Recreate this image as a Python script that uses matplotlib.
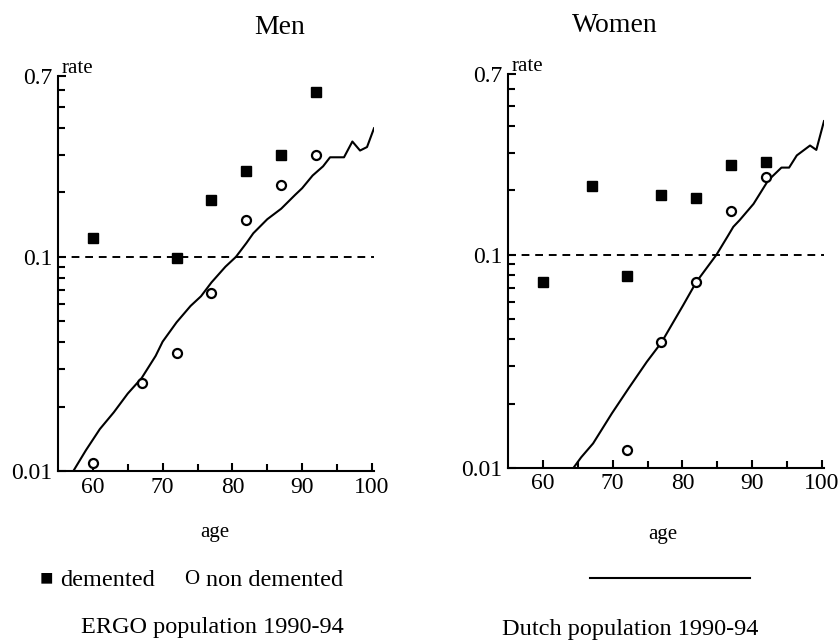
import matplotlib
matplotlib.use("Agg")
import matplotlib.pyplot as plt
import matplotlib.ticker as mticker
import numpy as np

plt.rcParams['font.family'] = ['Liberation Serif', 'DejaVu Serif']

# ERGO study points (age group midpoints, rate)
men_age_dem = [60, 72, 77, 82, 87, 92]
men_rate_dem = [0.123, 0.099, 0.184, 0.252, 0.30, 0.587]
men_age_non = [60, 67, 72, 77, 82, 87, 92]
men_rate_non = [0.0109, 0.0257, 0.0356, 0.068, 0.149, 0.216, 0.298]

women_age_dem = [60, 67, 72, 77, 82, 87, 92]
women_rate_dem = [0.0744, 0.210, 0.0794, 0.191, 0.185, 0.264, 0.272]
women_age_non = [72, 77, 82, 87, 92]
women_rate_non = [0.0121, 0.0387, 0.0744, 0.160, 0.231]

# Dutch population 1990-94
men_pop_age = [57.2, 59, 61, 63, 65, 67, 69, 70, 72, 74, 75.5, 77, 79, 80.5,
               82, 83, 85, 87, 89, 90, 91.5, 93, 94, 96, 97.2, 98.3, 99.3, 100.3]
men_pop_rate = [0.0100, 0.0125, 0.0157, 0.0188, 0.0230, 0.0272, 0.0345, 0.0402,
                0.0495, 0.0590, 0.0655, 0.0760, 0.0900, 0.1000, 0.1160, 0.1290,
                0.1500, 0.1680, 0.1950, 0.2094, 0.2400, 0.2650, 0.2920, 0.2920,
                0.3460, 0.3140, 0.3260, 0.3990]
women_pop_age = [64.4, 65.5, 67.2, 69.9, 72.3, 74.9, 77.0, 78.5, 80.1, 82.0,
                 84.9, 86.5, 87.3, 88.2, 90.2, 92.3, 94.2, 95.3, 96.4, 98.3,
                 99.2, 100.3]
women_pop_rate = [0.0100, 0.0112, 0.0130, 0.0180, 0.0236, 0.0314, 0.0387, 0.0470,
                  0.0578, 0.0744, 0.1000, 0.1220, 0.1350, 0.1450, 0.1730, 0.2230,
                  0.2560, 0.2560, 0.2920, 0.3250, 0.3100, 0.4230]

ref_rate = 0.1
titles = ['Men', 'Women']

fig = plt.figure(figsize=(8.4, 6.42), dpi=100)
W, H = 840, 642


def add_axes_px(left, right, top, bottom):
    return fig.add_axes([left / W, 1 - bottom / H, (right - left) / W, (bottom - top) / H])


ax_m = add_axes_px(58, 374, 76, 471)
ax_w = add_axes_px(508, 824, 74.5, 467.7)

panels = [
    (ax_m, men_age_dem, men_rate_dem, men_age_non, men_rate_non, men_pop_age, men_pop_rate),
    (ax_w, women_age_dem, women_rate_dem, women_age_non, women_rate_non, women_pop_age, women_pop_rate),
]

for ax, ad, rd, an, rn, pa, pr in panels:
    ax.set_yscale('log')
    ax.set_xlim(55, 100.3)
    ax.set_ylim(0.01, 0.7)
    ax.plot(pa, pr, color='black', lw=1.5, clip_on=True)
    ax.plot([55, 100.3], [ref_rate, ref_rate], color='black', lw=1.4, dashes=(4, 3))
    ax.plot(ad, rd, 's', color='black', ms=7, clip_on=False)
    ax.plot(an, rn, 'o', mfc='white', mec='black', mew=1.6, ms=6.5, clip_on=False)

    for s in ['top', 'right']:
        ax.spines[s].set_visible(False)
    for s in ['left', 'bottom']:
        ax.spines[s].set_linewidth(1.5)

    ax.xaxis.set_major_locator(mticker.FixedLocator([60, 70, 80, 90, 100]))
    ax.xaxis.set_minor_locator(mticker.FixedLocator([65, 75, 85, 95]))
    ax.yaxis.set_major_locator(mticker.FixedLocator([0.01, 0.1, 0.7]))
    ax.yaxis.set_major_formatter(mticker.FixedFormatter(['0.01', '0.1', '0.7']))
    ax.yaxis.set_minor_locator(mticker.FixedLocator(
        [0.02, 0.03, 0.04, 0.05, 0.06, 0.07, 0.08, 0.09, 0.2, 0.3, 0.4, 0.5, 0.6]))
    ax.yaxis.set_minor_formatter(mticker.NullFormatter())
    ax.tick_params(which='both', direction='in', width=1.5, labelsize=17, pad=4)
    ax.tick_params(which='major', length=6)
    ax.tick_params(which='minor', length=5)

    ax.text(0.01, 1.008, 'rate', transform=ax.transAxes, fontsize=15,
            ha='left', va='baseline')

# panel titles and axis captions
fig.text(280 / W, 1 - 27 / H, titles[0], ha='center', va='center', fontsize=20)
fig.text(615 / W, 1 - 25 / H, titles[1], ha='center', va='center', fontsize=20)
fig.text(215 / W, 1 - 533 / H, 'age', ha='center', va='center', fontsize=15)
fig.text(663 / W, 1 - 535 / H, 'age', ha='center', va='center', fontsize=15)

# key below the panels
fig.text(46 / W, 1 - 580 / H, '\u25a0', ha='center', va='center', fontsize=16)
fig.text(60 / W, 1 - 580 / H, 'demented', ha='left', va='center', fontsize=17.5)
fig.text(192 / W, 1 - 580 / H, 'O', ha='center', va='center', fontsize=15)
fig.text(206 / W, 1 - 580 / H, 'non demented', ha='left', va='center', fontsize=17.5)
fig.add_artist(plt.Line2D([590 / W, 750 / W], [1 - 578 / H, 1 - 578 / H],
                          color='black', lw=1.5))
fig.text(212 / W, 1 - 627 / H, 'ERGO population 1990-94', ha='center', va='center', fontsize=17.5)
fig.text(630 / W, 1 - 630 / H, 'Dutch population 1990-94', ha='center', va='center', fontsize=17.5)

fig.savefig('out.png', dpi=100)
